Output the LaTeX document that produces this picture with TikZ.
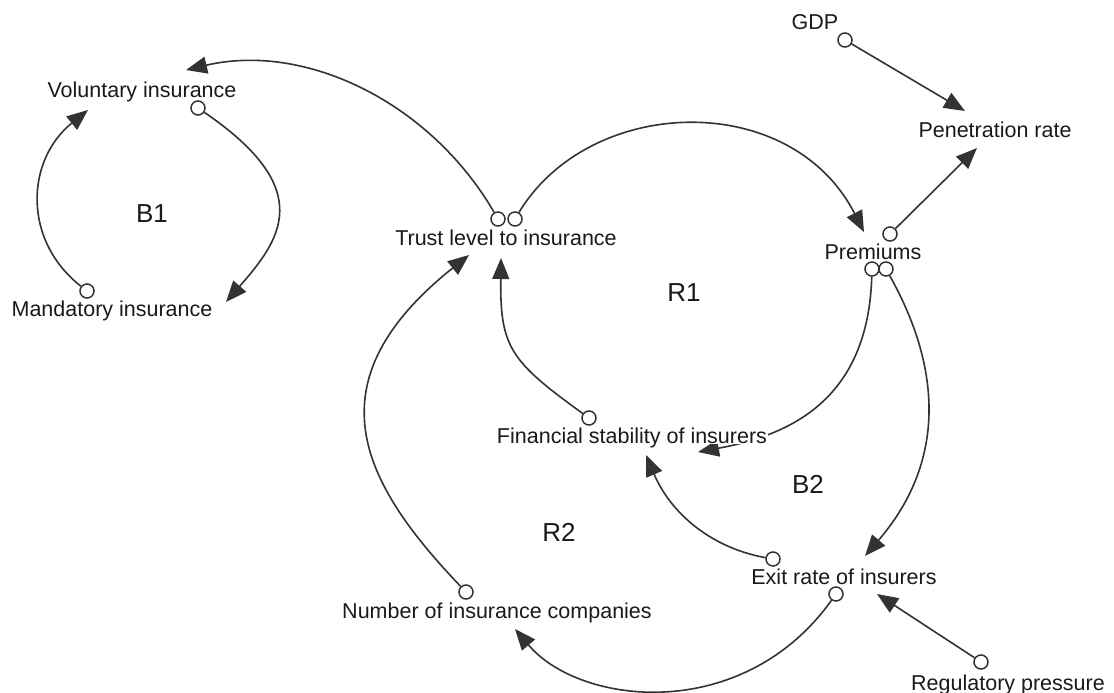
\documentclass[tikz,border=0pt]{standalone}
\usepackage{fontspec}
\setmainfont{Liberation Sans}
\usetikzlibrary{arrows.meta}
\pgfdeclarelayer{back}
\pgfdeclarelayer{lines}
\pgfsetlayers{back,lines,main}
\definecolor{ink}{HTML}{333333}
\definecolor{txt}{HTML}{1A1A1A}
\begin{document}
\begin{tikzpicture}[x=1pt,y=-1pt,
  lbl/.style={font=\fontsize{21.5}{24}\selectfont, anchor=base, inner xsep=1pt, inner ysep=0.5pt, fill=white, text=txt},
  loopname/.style={font=\fontsize{26}{30}\selectfont, anchor=base, inner sep=0pt, text=txt},
  tail/.style={circle, draw=ink, fill=white, line width=1.5pt, inner sep=0pt, minimum size=14pt},
  link/.style={draw=ink, line width=1.6pt, -{Triangle[length=21pt,width=17pt]}}
]
\begin{pgfonlayer}{back}
\fill[white] (0,0) rectangle (1114,693);
\end{pgfonlayer}
\useasboundingbox (0,0) rectangle (1114,693);

% variables
\node[lbl] (gdp) at (815,30) {GDP};
\node[lbl] (pen) at (995,137) {Penetration rate};
\node[lbl] (prem) at (873,259) {Premiums};
\node[lbl] (trust) at (506,245) {Trust level to insurance};
\node[lbl] (vol) at (142,98) {Voluntary insurance};
\node[lbl] (mand) at (112,316) {Mandatory insurance};
\node[lbl, text depth=0pt] (fin) at (632,443) {Financial stability of insurers};
\node[lbl] (num) at (497,618) {Number of insurance companies};
\node[lbl] (exit) at (844,584) {Exit rate of insurers};
\node[lbl] (reg) at (1008,690) {Regulatory pressure};

% loop names
\node[loopname] (b1) at (152,222) {B1};
\node[loopname] (r1) at (684,301) {R1};
\node[loopname] (b2) at (808,493) {B2};
\node[loopname] (r2) at (559,541) {R2};

% tails of links
\node[tail] (gdp-o) at (845,40) {};
\node[tail] (prem-o1) at (890,234) {};
\node[tail] (prem-o2) at (872,269) {};
\node[tail] (prem-o3) at (886,269) {};
\node[tail] (trust-o1) at (498,219) {};
\node[tail] (trust-o2) at (515,219) {};
\node[tail] (vol-o) at (198,108) {};
\node[tail] (mand-o) at (87,291) {};
\node[tail] (fin-o) at (589,418) {};
\node[tail] (num-o) at (466,592) {};
\node[tail] (exit-o1) at (773,559) {};
\node[tail] (exit-o2) at (836,594) {};
\node[tail] (reg-o) at (981,662) {};

% heads of links
\coordinate (vol-in1) at (186,70);
\coordinate (vol-in2) at (88,110);
\coordinate (mand-in) at (226,302);
\coordinate (trust-in1) at (469,255);
\coordinate (trust-in2) at (501,258);
\coordinate (prem-in) at (864,232);
\coordinate (pen-in1) at (965,111);
\coordinate (pen-in2) at (977,148);
\coordinate (fin-in1) at (698,452);
\coordinate (fin-in2) at (646,455);
\coordinate (exit-in1) at (865,556);
\coordinate (exit-in2) at (877,594);
\coordinate (num-in) at (515,629);

\begin{pgfonlayer}{lines}
\draw[link] (trust-o1) .. controls (430,102) and (305,42) .. (vol-in1);
\draw[link] (trust-o2) .. controls (590,95) and (791,89) .. (prem-in);
\draw[link] (mand-o) .. controls (22,240) and (26,160) .. (vol-in2);
\draw[link] (vol-o) .. controls (318,190) and (280,240) .. (mand-in);
\draw[link] (gdp-o) -- (pen-in1);
\draw[link] (prem-o1) -- (pen-in2);
\draw[link] (fin-o) .. controls (510,361) and (500,347) .. (trust-in2);
\draw[link] (num-o) .. controls (360,481) and (310,382) .. (trust-in1);
\draw[link] (prem-o2) .. controls (868,400) and (790,435) .. (fin-in1);
\draw[link] (prem-o3) .. controls (938,362) and (950,457) .. (exit-in1);
\draw[link] (exit-o1) .. controls (712,548) and (671,514) .. (fin-in2);
\draw[link] (exit-o2) .. controls (743,724) and (580,706) .. (num-in);
\draw[link] (reg-o) -- (exit-in2);
\end{pgfonlayer}
\end{tikzpicture}
\end{document}
